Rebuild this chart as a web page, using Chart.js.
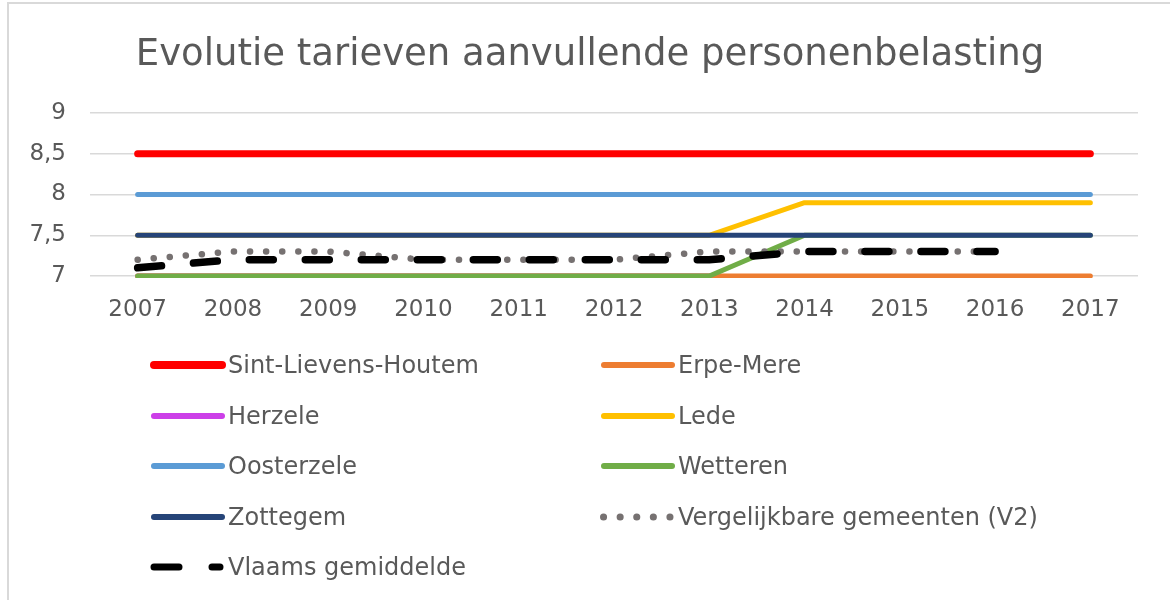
<!DOCTYPE html>
<html>
<head>
<meta charset="utf-8">
<script src="https://cdn.jsdelivr.net/npm/chart.js@4.4.1/dist/chart.umd.min.js"></script>
<style>
  html, body { margin: 0; padding: 0; background: #fff; overflow: hidden; }
  #wrap { position: relative; width: 1170px; height: 600px; overflow: hidden; }
  #frame { position: absolute; left: 7px; top: 2px; width: 1300px; height: 800px; border: 2px solid #d9d9d9; box-sizing: border-box; }
  canvas { position: absolute; left: 0; top: 0; }
  #title { position: absolute; left: 0; width: 1180px; top: 28px; text-align: center; font-family: "DejaVu Sans", sans-serif; font-size: 37px; line-height: 50px; color: #595959; white-space: nowrap; }
  .lg { position: absolute; height: 30px; display: flex; align-items: center; font-family: "DejaVu Sans", sans-serif; font-size: 24px; color: #595959; white-space: nowrap; }
  .lg svg { width: 78px; height: 14px; margin-right: 0; flex: none; }
</style>
</head>
<body>
<div id="wrap">
  <div id="frame"></div>
  <canvas id="c" width="1170" height="600"></canvas>
  <div id="title">Evolutie tarieven aanvullende personenbelasting</div>
  <div id="legend"></div>
</div>
<script>
const years = ['2007','2008','2009','2010','2011','2012','2013','2014','2015','2016','2017'];
const sintLievensHoutem = [8.5, 8.5, 8.5, 8.5, 8.5, 8.5, 8.5, 8.5, 8.5, 8.5, 8.5];
const erpeMere = [7, 7, 7, 7, 7, 7, 7, 7, 7, 7, 7];
const herzele = [7, 7, 7, 7, 7, 7, 7, 6.9, 6.9, 6.9, 6.9];
const lede = [7.5, 7.5, 7.5, 7.5, 7.5, 7.5, 7.5, 7.9, 7.9, 7.9, 7.9];
const oosterzele = [8, 8, 8, 8, 8, 8, 8, 8, 8, 8, 8];
const wetteren = [7, 7, 7, 7, 7, 7, 7, 7.5, 7.5, 7.5, 7.5];
const zottegem = [7.5, 7.5, 7.5, 7.5, 7.5, 7.5, 7.5, 7.5, 7.5, 7.5, 7.5];
const vergelijkbareGemeenten = [7.2, 7.3, 7.3, 7.2, 7.2, 7.2, 7.3, 7.3, 7.3, 7.3, null];
const vlaamsGemiddelde = [7.1, 7.2, 7.2, 7.2, 7.2, 7.2, 7.2, 7.3, 7.3, 7.3, null];
const yTicks = [7, 7.5, 8, 8.5, 9];

const seriesNames = ['Sint-Lievens-Houtem','Erpe-Mere','Herzele','Lede','Oosterzele','Wetteren','Zottegem','Vergelijkbare gemeenten (V2)','Vlaams gemiddelde'];
const seriesData = [sintLievensHoutem, erpeMere, herzele, lede, oosterzele, wetteren, zottegem, vergelijkbareGemeenten, vlaamsGemiddelde];
const styles = [
  {color:'#FF0000', width:7, dash:[], order:9},
  {color:'#ED7D31', width:5, dash:[], order:7},
  {color:'#CC3FE8', width:5, dash:[], order:8},
  {color:'#FFC000', width:5, dash:[], order:6},
  {color:'#5B9BD5', width:5, dash:[], order:5},
  {color:'#70AD47', width:5, dash:[], order:4},
  {color:'#264478', width:5, dash:[], order:3},
  {color:'#767171', width:6.5, dash:[0.1, 16], order:2},
  {color:'#000000', width:7.5, dash:[24, 32], order:1}
];

const FONT = '"DejaVu Sans", sans-serif';
const datasets = seriesNames.map((n, i) => ({
  label: n,
  data: seriesData[i],
  borderColor: styles[i].color,
  backgroundColor: styles[i].color,
  borderWidth: styles[i].width,
  borderDash: styles[i].dash,
  borderCapStyle: 'round',
  borderJoinStyle: 'round',
  pointRadius: 0,
  pointHoverRadius: 0,
  tension: 0,
  spanGaps: false,
  order: styles[i].order,
  clip: {left: 10, right: 10, top: 5, bottom: 2}
}));

new Chart(document.getElementById('c'), {
  type: 'line',
  data: { labels: years, datasets },
  options: {
    responsive: false,
    animation: false,
    events: [],
    layout: { padding: { left: 0, right: 32, top: 113, bottom: 264 } },
    plugins: {
      legend: { display: false },
      tooltip: { enabled: false },
      title: { display: false }
    },
    scales: {
      x: {
        offset: true,
        grid: { display: false, drawTicks: false, offset: true },
        border: { display: false },
        ticks: { color: '#595959', font: { family: FONT, size: 23 }, padding: 20, maxRotation: 0, autoSkip: false },
        afterFit: (s) => { s.height = 60; }
      },
      y: {
        min: 7, max: 9,
        afterBuildTicks: (s) => { s.ticks = yTicks.map(v => ({ value: v })); },
        grid: { color: '#d9d9d9', lineWidth: 1.5, drawTicks: false },
        border: { display: false },
        ticks: {
          color: '#595959', font: { family: FONT, size: 23 }, padding: 24,
          callback: (v) => String(v).replace('.', ',')
        },
        afterFit: (s) => { s.width = 90; }
      }
    }
  }
});

// HTML legend (two columns)
const legend = document.getElementById('legend');
const colX = [150, 600];
const rowY = [365, 415.5, 466, 516.5, 567];
seriesNames.forEach((n, i) => {
  const st = styles[i];
  const d = document.createElement('div');
  d.className = 'lg';
  d.style.left = colX[i % 2] + 'px';
  d.style.top = (rowY[Math.floor(i / 2)] - 15) + 'px';
  let dashAttr = '';
  let x1 = 4, x2 = 72;
  if (i === 7) { dashAttr = 'stroke-dasharray="0.1 16.5"'; x1 = 3.5; x2 = 72; }
  if (i === 8) { dashAttr = 'stroke-dasharray="25 33"'; x1 = 4; x2 = 70; }
  const w = i === 0 ? 8 : (i >= 7 ? 7 : 6);
  d.innerHTML = '<svg viewBox="0 0 78 14"><line x1="' + x1 + '" y1="7" x2="' + x2 + '" y2="7" stroke="' + st.color + '" stroke-width="' + w + '" stroke-linecap="round" ' + dashAttr + '/></svg><span>' + n + '</span>';
  legend.appendChild(d);
});
</script>
</body>
</html>
